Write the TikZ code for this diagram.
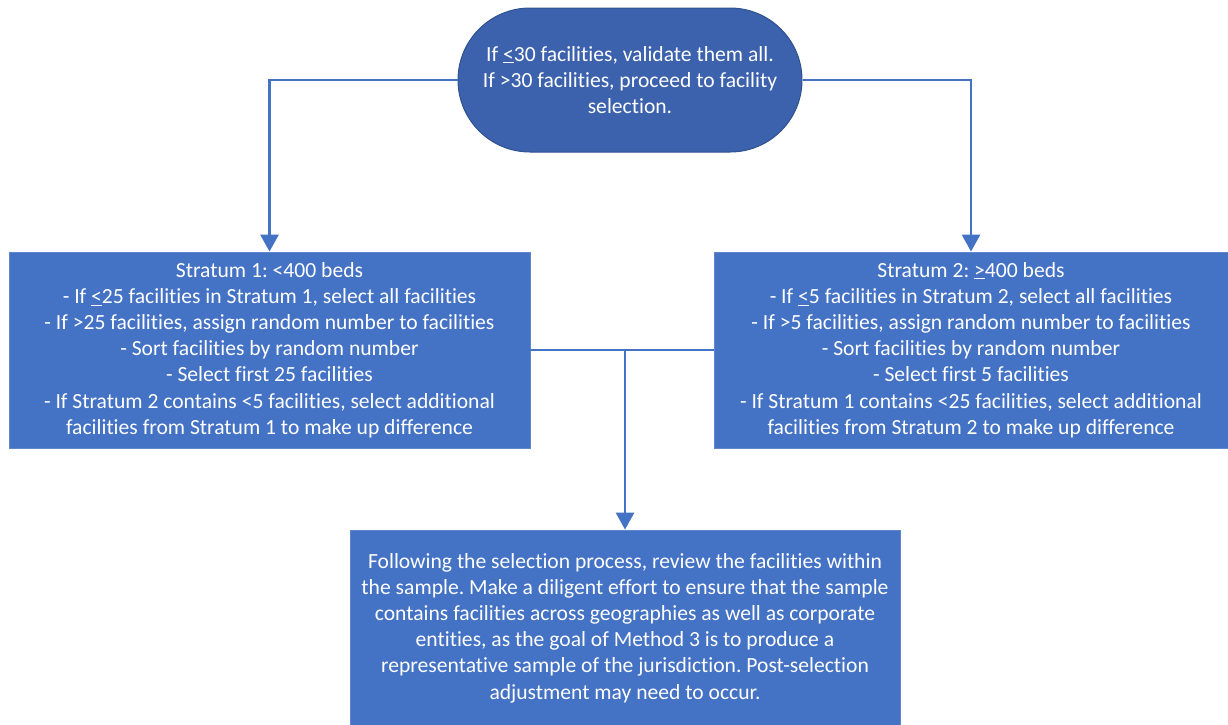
\documentclass[tikz,border=0pt]{standalone}
\usepackage{fontspec}
\setmainfont{Carlito}[Ligatures=NoCommon]
\usetikzlibrary{arrows.meta}
\definecolor{boxblue}{HTML}{4472C4}
\definecolor{capblue}{HTML}{3C62AD}
\definecolor{rimblue}{HTML}{2F528F}
\frenchspacing
\begin{document}
\begin{tikzpicture}[x=1pt, y=-1pt,
    every node/.style={font=\fontsize{21.6}{26.2}\selectfont, text=white, align=center, inner sep=0pt},
    stepbox/.style={fill=boxblue, draw=boxblue!85!white, line width=0.8pt},
    startcap/.style={fill=capblue, draw=rimblue, line width=1pt, rounded corners=72pt},
    flow/.style={draw=boxblue, line width=2.8pt, -{Triangle[width=18pt,length=17pt]}}]
    \useasboundingbox (0,0) rectangle (1228,724);

    \node[startcap, minimum width=344pt, minimum height=144pt] (start) at (630,80)
        {If \underline{<}30 facilities, validate them all.\\
         If >30 facilities, proceed to facility\\
         selection.};

    \node[stepbox, minimum width=521pt, minimum height=196pt] (strat1) at (269.5,350)
        {Stratum 1: <400 beds\\
         - If \underline{<}25 facilities in Stratum 1, select all facilities\\
         - If >25 facilities, assign random number to facilities\\
         - Sort facilities by random number\\
         - Select first 25 facilities\\
         - If Stratum 2 contains <5 facilities, select additional\\
         facilities from Stratum 1 to make up difference};

    \node[stepbox, minimum width=514pt, minimum height=196pt] (strat2) at (971,350)
        {Stratum 2: \underline{>}400 beds\\
         - If \underline{<}5 facilities in Stratum 2, select all facilities\\
         - If >5 facilities, assign random number to facilities\\
         - Sort facilities by random number\\
         - Select first 5 facilities\\
         - If Stratum 1 contains <25 facilities, select additional\\
         facilities from Stratum 2 to make up difference};

    \node[stepbox, minimum width=550pt, minimum height=196pt] (review) at (625,628)
        {Following the selection process, review the facilities within\\
         the sample. Make a diligent effort to ensure that the sample\\
         contains facilities across geographies as well as corporate\\
         entities, as the goal of Method 3 is to produce a\\
         representative sample of the jurisdiction. Post-selection\\
         adjustment may need to occur.};

    \draw[flow] (start.west) -| (strat1.north);
    \draw[flow] (start.east) -| (strat2.north);
    \draw[draw=boxblue, line width=2.8pt] (strat1.east) -- (strat2.west);
    \coordinate (join) at (strat1.east -| review.north);
    \draw[flow] (join) -- (review.north);
\end{tikzpicture}
\end{document}
